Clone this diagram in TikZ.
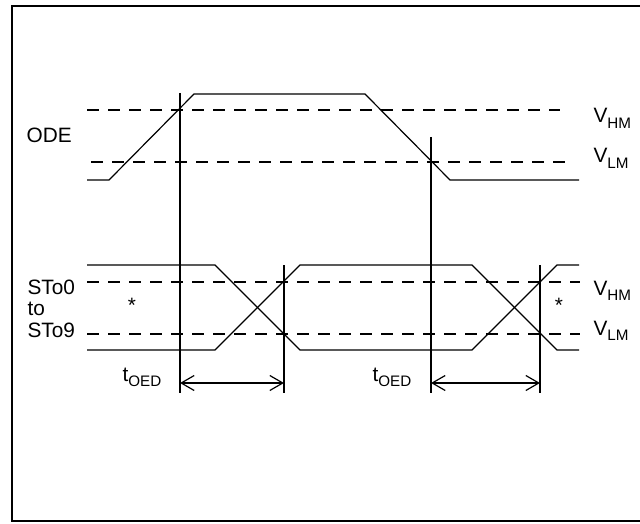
\documentclass[tikz,border=0pt]{standalone}
\usepackage{fontspec}
\setmainfont{Liberation Sans}
\usetikzlibrary{arrows.meta}
\newcommand{\lowidx}[1]{\raisebox{-2.6pt}{\fontsize{7.6}{8}\selectfont #1}}
\begin{document}
\begin{tikzpicture}[x=0.5pt,y=-0.5pt,line width=0.6pt]
\tikzstyle{every node}+=[inner sep=0pt,font=\fontsize{10.4}{12}\selectfont]
\tikzstyle{level}=[black,dash pattern=on 6pt off 4.5pt]
\tikzstyle{span}=[black,{Straight Barb[length=6.5pt,width=7.5pt]}-{Straight Barb[length=6.5pt,width=7.5pt]}]
\useasboundingbox (0,0) rectangle (640,523);
\draw [black,line width=1.1pt] (12,6) rectangle (660,521);
% ODE
\draw (26,143) node [anchor=base west] (ode) {ODE};
\draw [level] (87,110) -- (560,110);
\draw [level] (91,162) -- (565,162);
\draw [black] (87,180) -- (109,180) -- (194,94) -- (365,94) -- (450,180) -- (579,180);
\draw (593,123) node [anchor=base west] (vhmA) {V\lowidx{HM}};
\draw (593,163) node [anchor=base west] (vlmA) {V\lowidx{LM}};
% STo0 to STo9
\draw (27,294) node [anchor=base west] (sto0) {STo0};
\draw (27,315) node [anchor=base west] (sto) {to};
\draw (27,337) node [anchor=base west] (sto9) {STo9};
\draw (132,312) node [anchor=base] (starA) {*};
\draw (559,312) node [anchor=base] (starB) {*};
\draw [level] (87,282) -- (580,282);
\draw [level] (87,334) -- (580,334);
\draw [black] (87,265) -- (215,265) -- (300,350) -- (472,350) -- (557,265) -- (579,265);
\draw [black] (87,350) -- (215,350) -- (300,265) -- (472,265) -- (557,350) -- (579,350);
\draw (593,295) node [anchor=base west] (vhmB) {V\lowidx{HM}};
\draw (593,335) node [anchor=base west] (vlmB) {V\lowidx{LM}};
% timing marks
\coordinate (mA) at (180,93);
\coordinate (mB) at (284,265);
\coordinate (mC) at (431,137);
\coordinate (mD) at (540,265);
\foreach \m in {mA,mB,mC,mD}
  \draw [black] (\m) -- (\m |- 0,393);
\coordinate (spanA) at (180,383);
\coordinate (spanB) at (284,383);
\coordinate (spanC) at (431,383);
\coordinate (spanD) at (540,383);
\draw [span] (spanA) -- (spanB);
\draw [span] (spanC) -- (spanD);
\draw (122,381) node [anchor=base west] (toedA) {t\lowidx{OED}};
\draw (372,381) node [anchor=base west] (toedB) {t\lowidx{OED}};
\end{tikzpicture}
\end{document}
